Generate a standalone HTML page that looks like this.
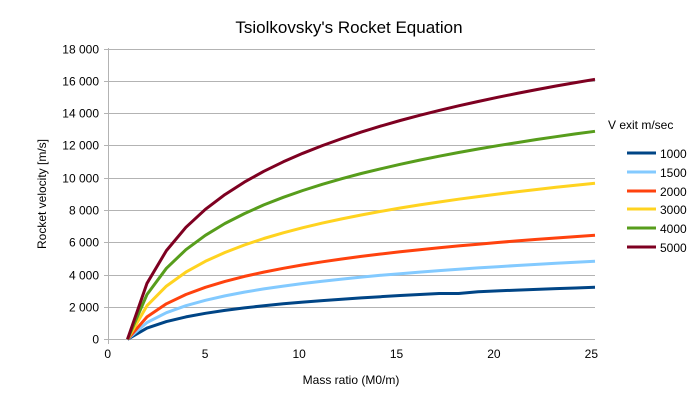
<!DOCTYPE html>
<html><head><meta charset="utf-8"><style>
body{margin:0;background:#fff}
svg{display:block;font-family:"Liberation Sans",sans-serif}
</style></head><body>
<svg id="s" width="698" height="401" viewBox="0 0 698 401">
<rect width="698" height="401" fill="#fff"/>
<g id="grid" stroke="#b3b3b3" stroke-width="1"></g>
<g id="lab" font-size="12" fill="#000" text-anchor="end"></g>
<text x="349" y="33" font-size="17" text-anchor="middle">Tsiolkovsky's Rocket Equation</text>
<text x="46" y="194" font-size="12" text-anchor="middle" transform="rotate(-90 46 194)">Rocket velocity [m/s]</text>
<text x="351" y="384" font-size="12" text-anchor="middle">Mass ratio (M0/m)</text>
<g id="ser" fill="none" stroke-width="3" stroke-linejoin="round"></g>
<g font-size="12">
<text x="608" y="129">V exit m/sec</text>
<line x1="627" y1="153" x2="656" y2="153" stroke="#004586" stroke-width="3"/><text x="660" y="158">1000</text>
<line x1="627" y1="172" x2="656" y2="172" stroke="#83caff" stroke-width="3"/><text x="660" y="177">1500</text>
<line x1="627" y1="191" x2="656" y2="191" stroke="#ff420e" stroke-width="3"/><text x="660" y="196">2000</text>
<line x1="627" y1="209" x2="656" y2="209" stroke="#ffd320" stroke-width="3"/><text x="660" y="214">3000</text>
<line x1="627" y1="228" x2="656" y2="228" stroke="#579d1c" stroke-width="3"/><text x="660" y="233">4000</text>
<line x1="627" y1="247" x2="656" y2="247" stroke="#7e0021" stroke-width="3"/><text x="660" y="252">5000</text>
</g>
</svg>
<script>
var ns="http://www.w3.org/2000/svg";
function el(t,a,p){var e=document.createElementNS(ns,t);for(var k in a)e.setAttribute(k,a[k]);document.getElementById(p).appendChild(e);return e;}
var X0=108,XS=19.48,Y0=339.3,YS=(339.3-48.5)/18000;
var labs=["0","2 000","4 000","6 000","8 000","10 000","12 000","14 000","16 000","18 000"];
for(var i=0;i<=9;i++){var y=Math.round(Y0-i*2000*YS)+0.5;
 el("line",{x1:104,x2:595,y1:y,y2:y},"grid");
 var t=el("text",{x:99,y:y+4},"lab");t.textContent=labs[i];}
el("line",{x1:108.5,x2:108.5,y1:48,y2:344},"grid");
var xl=[0,5,10,15,20,25];
for(var j=0;j<xl.length;j++){var x=X0+xl[j]*XS;
 var t=el("text",{x:x+3,y:358},"lab");t.textContent=xl[j];}
var sv=[[1000,"#004586"],[1500,"#83caff"],[2000,"#ff420e"],[3000,"#ffd320"],[4000,"#579d1c"],[5000,"#7e0021"]];
sv.forEach(function(s){var p=[];for(var r=1;r<=25;r++){var v=s[0]*Math.log(r);if(s[0]==1000&&(r==18))v=Math.log(17)*1000;
 p.push((X0+r*XS).toFixed(1)+","+(Y0-v*YS).toFixed(1));}
 el("polyline",{points:p.join(" "),stroke:s[1]},"ser");});
</script>
</body></html>
